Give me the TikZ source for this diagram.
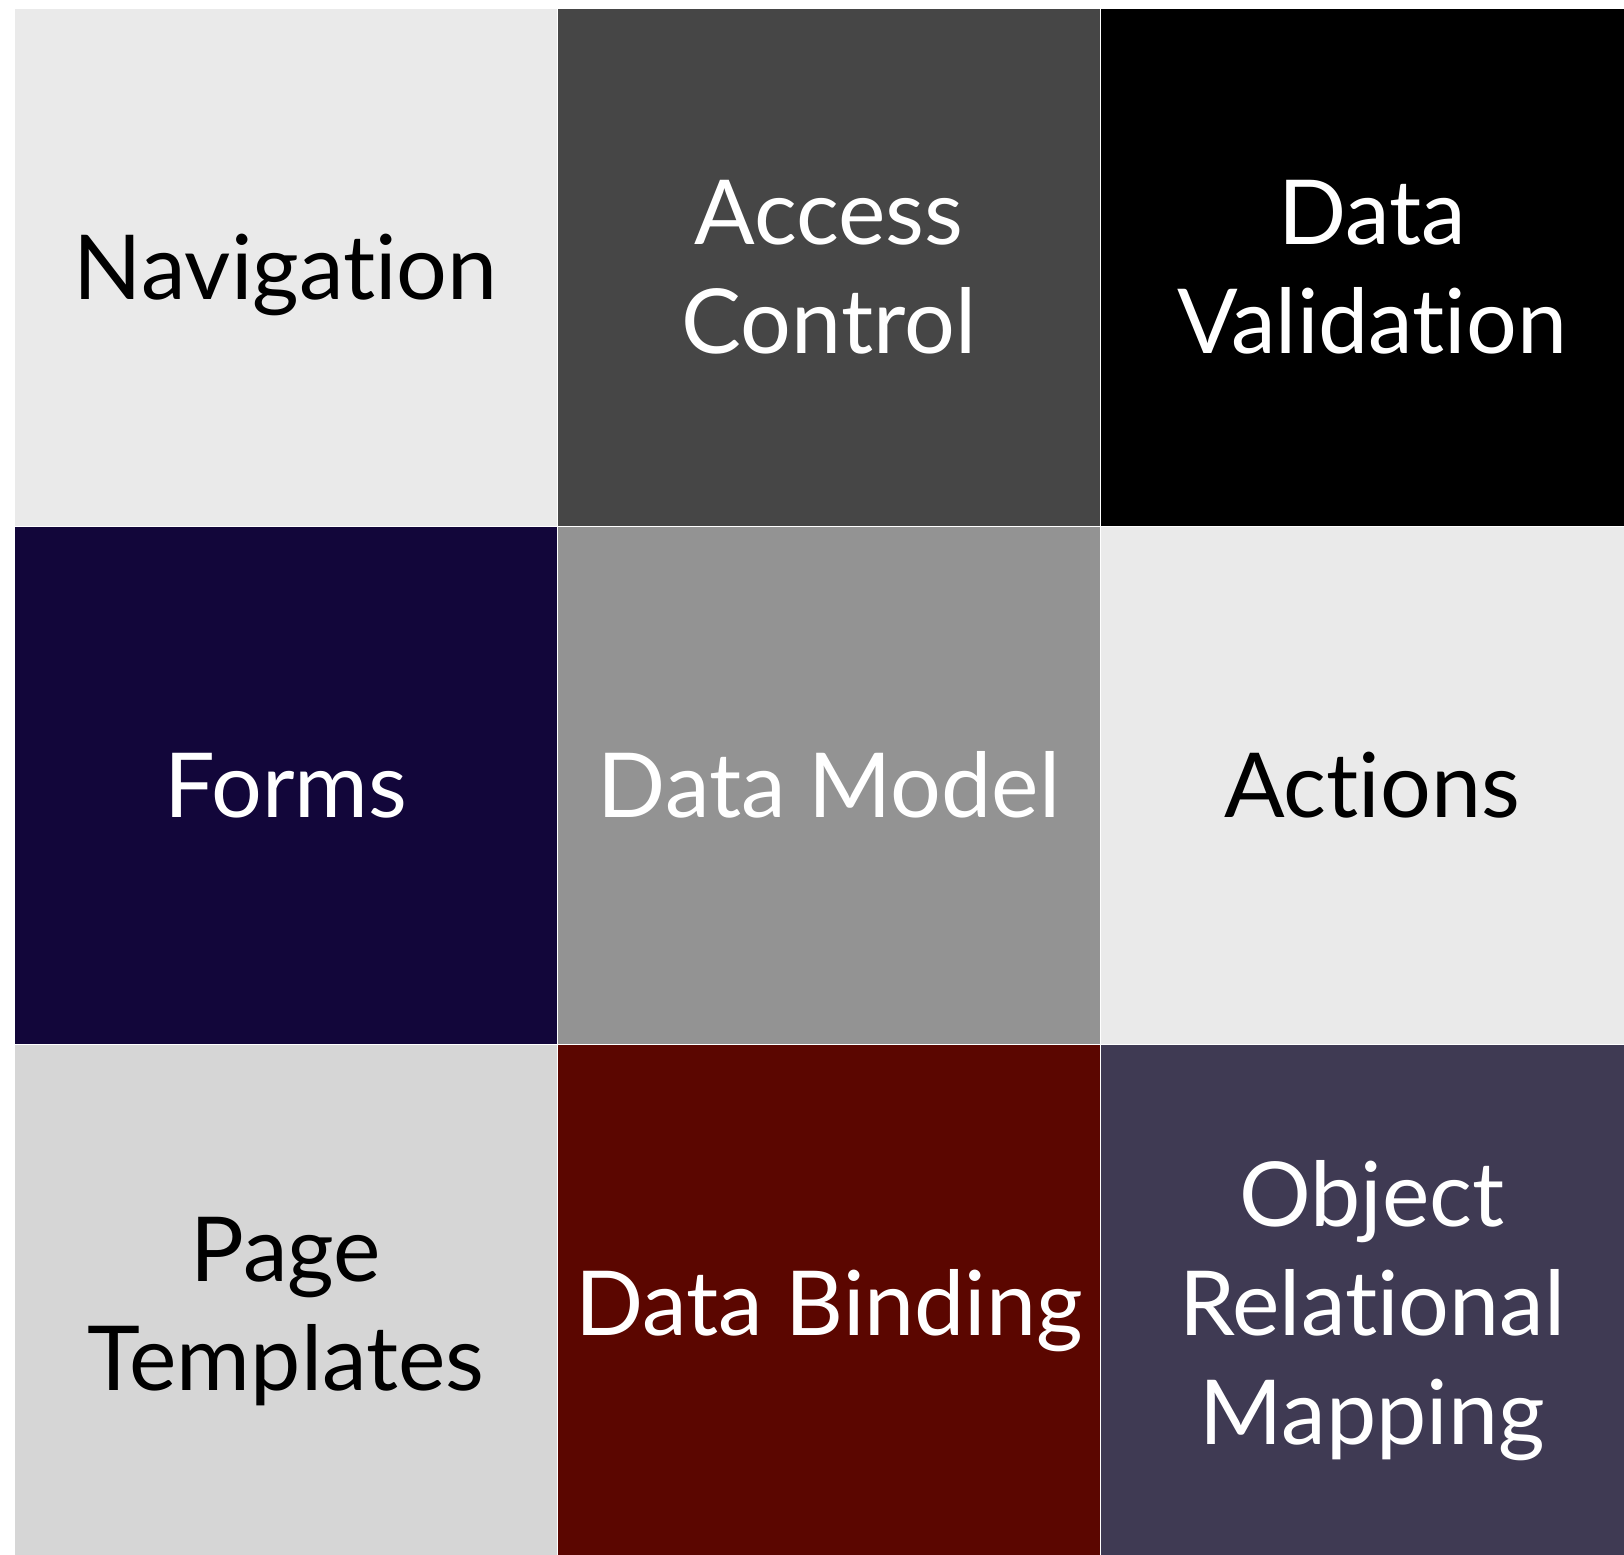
\documentclass[tikz,border=0pt]{standalone}
\usepackage{fontspec}
\setmainfont{Lato}[Ligatures={NoCommon}]
\usetikzlibrary{positioning}

\definecolor{paleGray}{HTML}{EAEAEA}
\definecolor{darkGray}{HTML}{464646}
\definecolor{midGray}{HTML}{939393}
\definecolor{lightGray}{HTML}{D6D6D6}
\definecolor{deepNavy}{HTML}{12063A}
\definecolor{deepRed}{HTML}{5B0600}
\definecolor{duskPurple}{HTML}{3F3A53}

\tikzset{
  cell/.style={rectangle, inner sep=0pt, minimum width=5.415cm, minimum height=5.165cm,
    align=center, text depth=0pt, font=\fontsize{25.5}{31}\selectfont},
  oneline/.style={text height=18.3pt},
  twoline/.style={text height=49.3pt},
  threeline/.style={text height=80.3pt}
}

\begin{document}
\begin{tikzpicture}[x=0.01cm, y=-0.01cm]
% Page frame
\useasboundingbox[fill=white] (0,0) rectangle (1624,1555);
\clip (0,0) rectangle (1624,1555);

% Top row
\node[cell, oneline, fill=paleGray, text=black] (nav) at (285.75,267.25) {Navigation};
\node[cell, twoline, fill=darkGray, text=white, right=0pt of nav] (access) {Access\\Control};
\node[cell, twoline, fill=black, text=white, right=0pt of access] (valid) {Data\\Validation};

% Middle row
\node[cell, oneline, fill=deepNavy, text=white, below=0pt of nav] (forms) {Forms};
\node[cell, oneline, fill=midGray, text=white, right=0pt of forms] (model) {Data Model};
\node[cell, oneline, fill=paleGray, text=black, right=0pt of model] (actions) {Actions};

% Bottom row
\node[cell, twoline, fill=lightGray, text=black, below=0pt of forms] (templates) {Page\\Templates};
\node[cell, oneline, fill=deepRed, text=white, right=0pt of templates] (binding) {Data Binding};
\node[cell, threeline, fill=duskPurple, text=white, right=0pt of binding] (orm) {Object\\Relational\\Mapping};
\end{tikzpicture}
\end{document}
